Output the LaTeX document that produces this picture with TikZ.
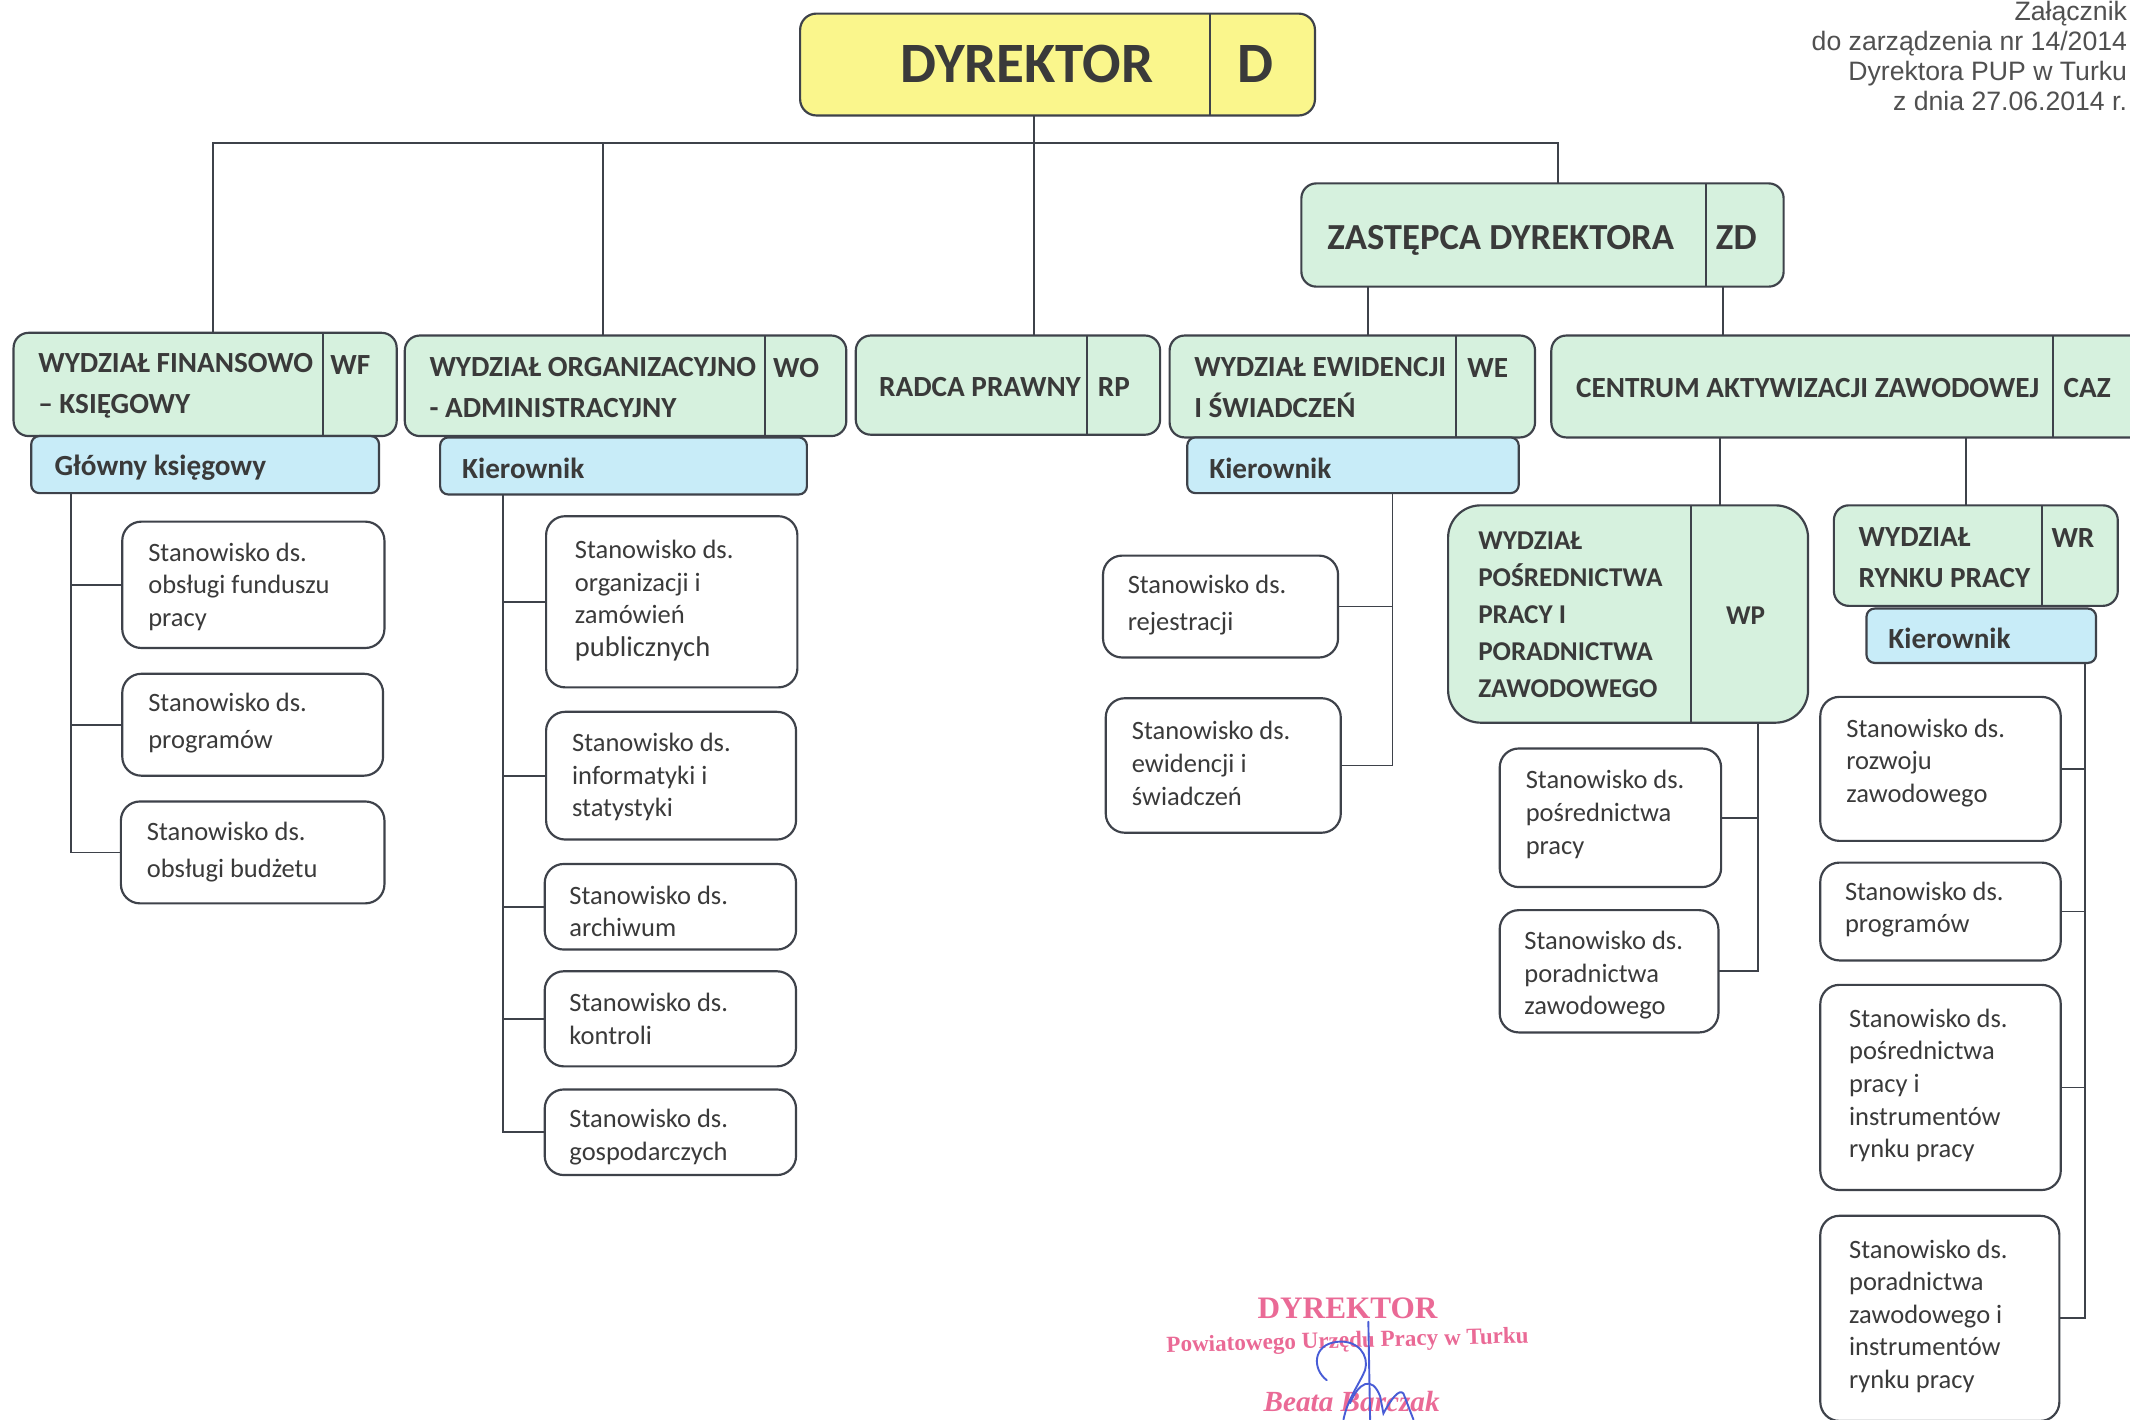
\documentclass[tikz,border=0pt]{standalone}
\usepackage{fontspec}
\setmainfont{Carlito}
\newfontfamily\arialf{Liberation Sans}
\newfontfamily\stampf{Liberation Serif}
\usetikzlibrary{calc}
\definecolor{gfill}{RGB}{214,241,222}
\definecolor{bfill}{RGB}{200,236,248}
\definecolor{yfill}{RGB}{250,246,140}
\definecolor{edge}{RGB}{62,66,74}
\definecolor{txt}{RGB}{58,58,58}
\definecolor{notec}{RGB}{80,80,80}
\definecolor{pinkst}{RGB}{234,106,150}
\definecolor{sigblue}{RGB}{72,92,214}
\newcommand\orgbox[6]{%
  \pgfmathsetmacro\obw{#5-#3}\pgfmathsetmacro\obh{#6-#4}%
  \node[#1, minimum width=\obw pt, minimum height=\obh pt, anchor=north west] (#2) at (#3,#4) {};}
\tikzset{
  box/.style={draw=edge, line width=1.6pt, inner sep=0pt, outer sep=0pt},
  gbox/.style={box, fill=gfill, rounded corners=11pt},
  bbox/.style={box, fill=bfill, rounded corners=6pt},
  ybox/.style={box, fill=yfill, rounded corners=12pt},
  wbox/.style={box, fill=white, rounded corners=14pt},
  pbox/.style={box, fill=gfill, rounded corners=24pt},
  divl/.style={draw=edge, line width=1.4pt},
  conn/.style={draw=edge, line width=1.3pt},
  hd/.style={font=\fontsize{21.5}{30}\selectfont\bfseries, text=txt, align=left, inner sep=0pt, anchor=west},
  hdp/.style={font=\fontsize{20}{27.3}\selectfont\bfseries, text=txt, align=left, inner sep=0pt, anchor=west},
  st/.style={font=\fontsize{19.5}{24}\selectfont, text=txt, align=left, inner sep=0pt, anchor=west},
  stw/.style={st, font=\fontsize{19.5}{27}\selectfont},
}
\begin{document}
\begin{tikzpicture}[x=1pt,y=-1pt]
\useasboundingbox[fill=white] (0,0) rectangle (1568,1045);

% ---------- annex note ----------
\node[font=\arialf\fontsize{19.6}{22}\selectfont, text=notec, align=right, anchor=east, inner sep=0pt] (note) at (1566,41)
  {Załącznik\\do zarządzenia nr 14/2014\\Dyrektora PUP w Turku\\z dnia 27.06.2014 r.};

% ---------- boxes ----------
\orgbox{ybox}{D}{589}{10}{968}{85}
\draw[divl] (891,10) -- (891,85);
\node[font=\fontsize{42}{42}\selectfont\bfseries, text=txt, inner sep=0pt] (Dt) at (756,47) {DYREKTOR};
\node[font=\fontsize{42}{42}\selectfont\bfseries, text=txt, inner sep=0pt] (Dc) at (924,47) {D};

\orgbox{gbox}{ZD}{958}{135}{1313}{211}
\draw[divl] (1256,135) -- (1256,211);
\node[font=\fontsize{27}{30}\selectfont\bfseries, text=txt, inner sep=0pt, anchor=base west] (ZDt) at (977,184) {ZASTĘPCA DYREKTORA};
\node[font=\fontsize{27}{30}\selectfont\bfseries, text=txt, inner sep=0pt, anchor=base west] (ZDc) at (1263,184) {ZD};

\orgbox{gbox}{WF}{10}{245}{292}{321}
\draw[divl] (238,245) -- (238,321);
\node[hd] (WFt) at (28,284) {WYDZIAŁ FINANSOWO\\– KSIĘGOWY};
\node[hd] (WFc) at (243,269) {WF};
\orgbox{bbox}{GK}{23}{321}{279}{363}
\node[hd] (GKt) at (40,344) {Główny księgowy};

\orgbox{gbox}{WO}{298}{247}{623}{321}
\draw[divl] (563,247) -- (563,321);
\node[hd] (WOt) at (316,285.5) {WYDZIAŁ ORGANIZACYJNO\\- ADMINISTRACYJNY};
\node[hd] (WOc) at (569,271) {WO};
\orgbox{bbox}{KWO}{324}{322}{594}{364}
\node[hd] (KWOt) at (340,345) {Kierownik};

\orgbox{gbox}{RP}{630}{247}{854}{320}
\draw[divl] (800,247) -- (800,320);
\node[hd] (RPt) at (647,285) {RADCA PRAWNY};
\node[hd] (RPc) at (808,285) {RP};

\orgbox{gbox}{WE}{861}{247}{1130}{322}
\draw[divl] (1072,247) -- (1072,322);
\node[hd] (WEt) at (879,285.5) {WYDZIAŁ EWIDENCJI\\I ŚWIADCZEŃ};
\node[hd] (WEc) at (1080,271) {WE};
\orgbox{bbox}{KWE}{874}{322}{1118}{363}
\node[hd] (KWEt) at (890,345) {Kierownik};

\orgbox{gbox}{CAZ}{1142}{247}{1580}{322}
\draw[divl] (1511,247) -- (1511,322);
\node[hd] (CAZt) at (1160,286) {CENTRUM AKTYWIZACJI ZAWODOWEJ};
\node[hd] (CAZc) at (1519,286) {CAZ};

\orgbox{pbox}{WP}{1066}{372}{1331}{532}
\draw[divl] (1245,372) -- (1245,532);
\node[hdp] (WPt) at (1088,452.5) {WYDZIAŁ\\POŚREDNICTWA\\PRACY I\\PORADNICTWA\\ZAWODOWEGO};
\node[hdp, anchor=center] (WPc) at (1285,453) {WP};

\orgbox{gbox}{WR}{1350}{372}{1559}{446}
\draw[divl] (1503,372) -- (1503,446);
\node[hd] (WRt) at (1368,410.5) {WYDZIAŁ\\RYNKU PRACY};
\node[hd] (WRc) at (1510,396) {WR};
\orgbox{bbox}{KWR}{1374}{448}{1543}{488}
\node[hd] (KWRt) at (1390,470) {Kierownik};

% ---------- white boxes ----------
\orgbox{wbox}{F1}{90}{384}{283}{477}
\node[st] (F1t) at (109,432) {Stanowisko ds.\\obsługi funduszu\\pracy};
\orgbox{wbox}{F2}{90}{496}{282}{571}
\node[stw] (F2t) at (109,532.5) {Stanowisko ds.\\programów};
\orgbox{wbox}{F3}{89}{590}{283}{665}
\node[stw] (F3t) at (108,627) {Stanowisko ds.\\obsługi budżetu};

\orgbox{wbox}{O1}{402}{380}{587}{506}
\node[st] (O1t) at (423,442) {Stanowisko ds.\\organizacji i\\zamówień\\{\fontsize{21}{24}\selectfont publicznych}};
\orgbox{wbox}{O2}{402}{524}{586}{618}
\node[st] (O2t) at (421,572) {Stanowisko ds.\\informatyki i\\statystyki};
\orgbox{wbox}{O3}{401}{636}{586}{699}
\node[st] (O3t) at (419,671) {Stanowisko ds.\\archiwum};
\orgbox{wbox}{O4}{401}{715}{586}{785}
\node[st] (O4t) at (419,750) {Stanowisko ds.\\kontroli};
\orgbox{wbox}{O5}{401}{802}{586}{865}
\node[st] (O5t) at (419,837) {Stanowisko ds.\\gospodarczych};

\orgbox{wbox}{E1}{812}{409}{985}{484}
\node[stw] (E1t) at (830,445.5) {Stanowisko ds.\\rejestracji};
\orgbox{wbox}{E2}{814}{514}{987}{613}
\node[st] (E2t) at (833,562) {Stanowisko ds.\\ewidencji i\\świadczeń};

\orgbox{wbox}{P1}{1104}{551}{1267}{653}
\node[st] (P1t) at (1123,599.5) {Stanowisko ds.\\pośrednictwa\\pracy};
\orgbox{wbox}{P2}{1104}{670}{1265}{760}
\node[st] (P2t) at (1122,718) {Stanowisko ds.\\poradnictwa\\zawodowego};

\orgbox{wbox}{R1}{1340}{513}{1517}{619}
\node[st] (R1t) at (1359,561.5) {Stanowisko ds.\\rozwoju\\zawodowego};
\orgbox{wbox}{R2}{1340}{635}{1517}{707}
\node[st] (R2t) at (1358,669.5) {Stanowisko ds.\\programów};
\orgbox{wbox}{R3}{1340}{725}{1517}{876}
\node[st] (R3t) at (1361,799) {Stanowisko ds.\\pośrednictwa\\pracy i\\instrumentów\\rynku pracy};
\orgbox{wbox}{R4}{1340}{895}{1516}{1046}
\node[st] (R4t) at (1361,969) {Stanowisko ds.\\poradnictwa\\zawodowego i\\instrumentów\\rynku pracy};

% ---------- connectors ----------
\coordinate (bus) at (0,105);
\draw[conn] ([xshift=-17.5pt]D.south) -- ([xshift=19pt]RP.north);
\coordinate (wfTop) at ([xshift=6pt]WF.north);
\coordinate (woTop) at ([xshift=-16.5pt]WO.north);
\coordinate (zdTop) at ([xshift=11.5pt]ZD.north);
\draw[conn] (wfTop) -- (wfTop |- bus) -- (zdTop |- bus) -- (zdTop);
\draw[conn] (woTop) -- (woTop |- bus);

\coordinate (weTop) at ([xshift=11.5pt]WE.north);
\coordinate (cazTop) at ([xshift=-92.5pt]CAZ.north);
\draw[conn] (weTop) -- (weTop |- ZD.south);
\draw[conn] (cazTop) -- (cazTop |- ZD.south);

\coordinate (wpTop) at ([xshift=67.5pt]WP.north);
\coordinate (wrTop) at ([xshift=-7.5pt]WR.north);
\draw[conn] (wpTop) -- (wpTop |- CAZ.south);
\draw[conn] (wrTop) -- (wrTop |- CAZ.south);

\coordinate (gks) at ([xshift=29pt]GK.south west);
\draw[conn] (gks) |- (F3.west);
\draw[conn] (F1.west) -- (F1.west -| gks);
\draw[conn] (F2.west) -- (F2.west -| gks);

\coordinate (kwos) at ([xshift=46pt]KWO.south west);
\draw[conn] (kwos) |- (O5.west);
\foreach \b in {O1,O2,O3,O4}{\draw[conn] (\b.west) -- (\b.west -| kwos);}

\coordinate (kwes) at ([xshift=151pt]KWE.south west);
\draw[conn] (kwes) |- (E2.east);
\draw[conn] (E1.east) -- (E1.east -| kwes);

\coordinate (wps) at ([xshift=228pt]WP.south west);
\draw[conn] (wps) |- (P2.east);
\draw[conn] (P1.east) -- (P1.east -| wps);

\coordinate (krs) at ([xshift=161pt]KWR.south west);
\draw[conn] (krs) |- (R4.east);
\foreach \b in {R1,R2,R3}{\draw[conn] (\b.east) -- (\b.east -| krs);}

% ---------- stamp ----------
\node[font=\stampf\bfseries\fontsize{23}{23}\selectfont, text=pinkst, inner sep=0pt] (st1) at (992,963) {DYREKTOR};
\node[font=\stampf\bfseries\fontsize{17}{17}\selectfont, text=pinkst, inner sep=0pt, rotate=1.5] (st2) at (992,988) {Powiatowego Urzędu Pracy w Turku};
\node[font=\stampf\bfseries\itshape\fontsize{21.5}{21.5}\selectfont, text=pinkst, inner sep=0pt] (st3) at (995,1032) {Beata Barczak};
\draw[sigblue, line width=1.4pt, line cap=round]
  (976.7,1016) .. controls (966,1008) and (966,990) .. (984,987.8)
  .. controls (1000,986) and (1008,998) .. (1004.9,1008.6)
  .. controls (1000,1020) and (992,1030) .. (989,1045);
\draw[sigblue, line width=1.4pt, line cap=round] (1007.3,973) -- (1008.6,1045);
\draw[sigblue, line width=1.4pt, line cap=round]
  (993.8,1033) .. controls (1000,1018) and (1010,1012) .. (1016,1028) -- (1018.4,1040.5)
  .. controls (1024,1030) and (1030,1022) .. (1033.1,1025.8) -- (1040.5,1045);
\end{tikzpicture}
\end{document}
